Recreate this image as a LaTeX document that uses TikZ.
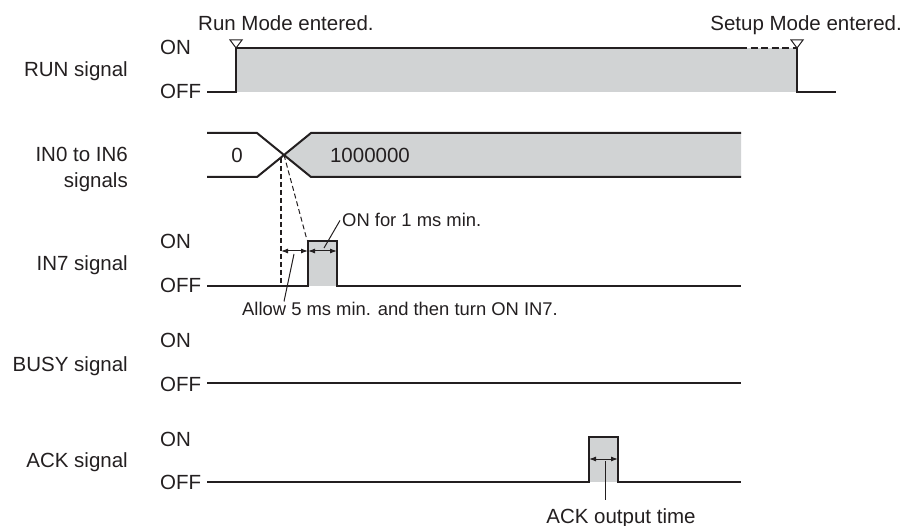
\documentclass[tikz,border=0pt]{standalone}
\usepackage{fontspec}
\setmainfont{Liberation Sans}
\usetikzlibrary{arrows.meta,positioning,calc}
\definecolor{SigInk}{HTML}{231F20}
\definecolor{SigGray}{HTML}{D1D3D4}

\begin{document}
\begin{tikzpicture}[x=1pt, y=-1pt,
  every node/.style={font=\fontsize{20.5}{24}\selectfont, text=SigInk, inner sep=0pt},
  lvl/.style={anchor=base west},
  sig/.style={anchor=base east},
  note/.style={font=\fontsize{18.4}{22}\selectfont},
  wave/.style={draw=SigInk, line width=2pt},
  marker/.style={draw=SigInk, fill=white, line width=1pt, line join=miter},
  leader/.style={draw=SigInk, line width=1pt},
  dim/.style={draw=SigInk, line width=1pt, {Latex[length=7pt,width=5pt]}-{Latex[length=7pt,width=5pt]}},
  guide/.style={draw=SigInk, dash pattern=on 5pt off 3pt},
]
\useasboundingbox (0,0) rectangle (909,526);

\node[sig] (runsig)  at (128,77)  {RUN signal};
\node[sig] (insig)   at (128,162) {IN0 to IN6};
\node[sig] (insig2)  at (128,188) {signals};
\node[sig] (in7sig)  at (128,271) {IN7 signal};
\node[sig] (busysig) at (128,371) {BUSY signal};
\node[sig] (acksig)  at (128,467) {ACK signal};
\foreach \nm/\on/\off in {run/55/99, in7/249/293, busy/347/391, ack/446/489} {
  \node[lvl] (\nm on)  at (160,\on)  {ON};
  \node[lvl] (\nm off) at (160,\off) {OFF};
}

\coordinate (runrise) at (236,48);
\coordinate (runfall) at (797,48);
\fill[SigGray] (runrise) rectangle (797,92);
\draw[wave] (207,92) -- (236,92) -- (runrise) -- (740,48);
\draw[wave, dash pattern=on 7pt off 3.5pt] (740,48) -- (runfall);
\draw[wave] (runfall) -- (797,92) -- (836,92);
\draw[marker] (230,40) -- (242,40) -- (runrise) -- cycle;
\draw[marker] (791,40) -- (803,40) -- (runfall) -- cycle;
\node[anchor=base west] (runtxt) at (198,31) {Run Mode entered.};
\node[anchor=base east] (setuptxt) at (902,31) {Setup Mode entered.};

\coordinate (cross) at (284,155);
\fill[SigGray] (cross) -- (311,133) -- (741,133) -- (741,177) -- (311,177) -- cycle;
\draw[wave] (207,133) -- (257,133) -- (311,177) -- (741,177);
\draw[wave] (207,177) -- (257,177) -- (311,133) -- (741,133);
\node (val0) at (237,155) {0};
\node (val1) at (370,155) {1000000};

\fill[SigGray] (308,241) rectangle (337,286);
\draw[wave] (207,286) -- (308,286) -- (308,241) -- (337,241) -- (337,286) -- (741,286);
\draw[guide, line width=2.3pt] (281,158) -- (281,286);
\draw[guide, line width=1pt] (cross) -- (307,240);
\draw[dim] (281,251) -- (308,251);
\draw[dim] (308,251) -- (337,251);
\coordinate (wait5) at (294,254);
\coordinate (on1ms) at (324,248);
\node[note, anchor=base west] (on1) at (342,227) {ON for 1 ms min.};
\node[note, anchor=base west] (allow) at (242,315) {Allow 5 ms min. and then turn ON IN7.};
\draw[leader] ($(on1.west)+(-2,0)$) -- (on1ms);
\draw[leader] (wait5) -- ($(allow.north west)+(42,0)$);

\draw[wave] (207,383) -- (741,383);

\fill[SigGray] (589,437) rectangle (618,482);
\draw[wave] (207,482) -- (589,482) -- (589,437) -- (618,437) -- (618,482) -- (741,482);
\draw[dim] (589,459) -- (618,459);
\coordinate (ackmid) at (605,461);
\node[anchor=base] (acktime) at (621,523) {ACK output time};
\draw[leader] (ackmid) -- (ackmid |- 0,500);
\end{tikzpicture}
\end{document}
